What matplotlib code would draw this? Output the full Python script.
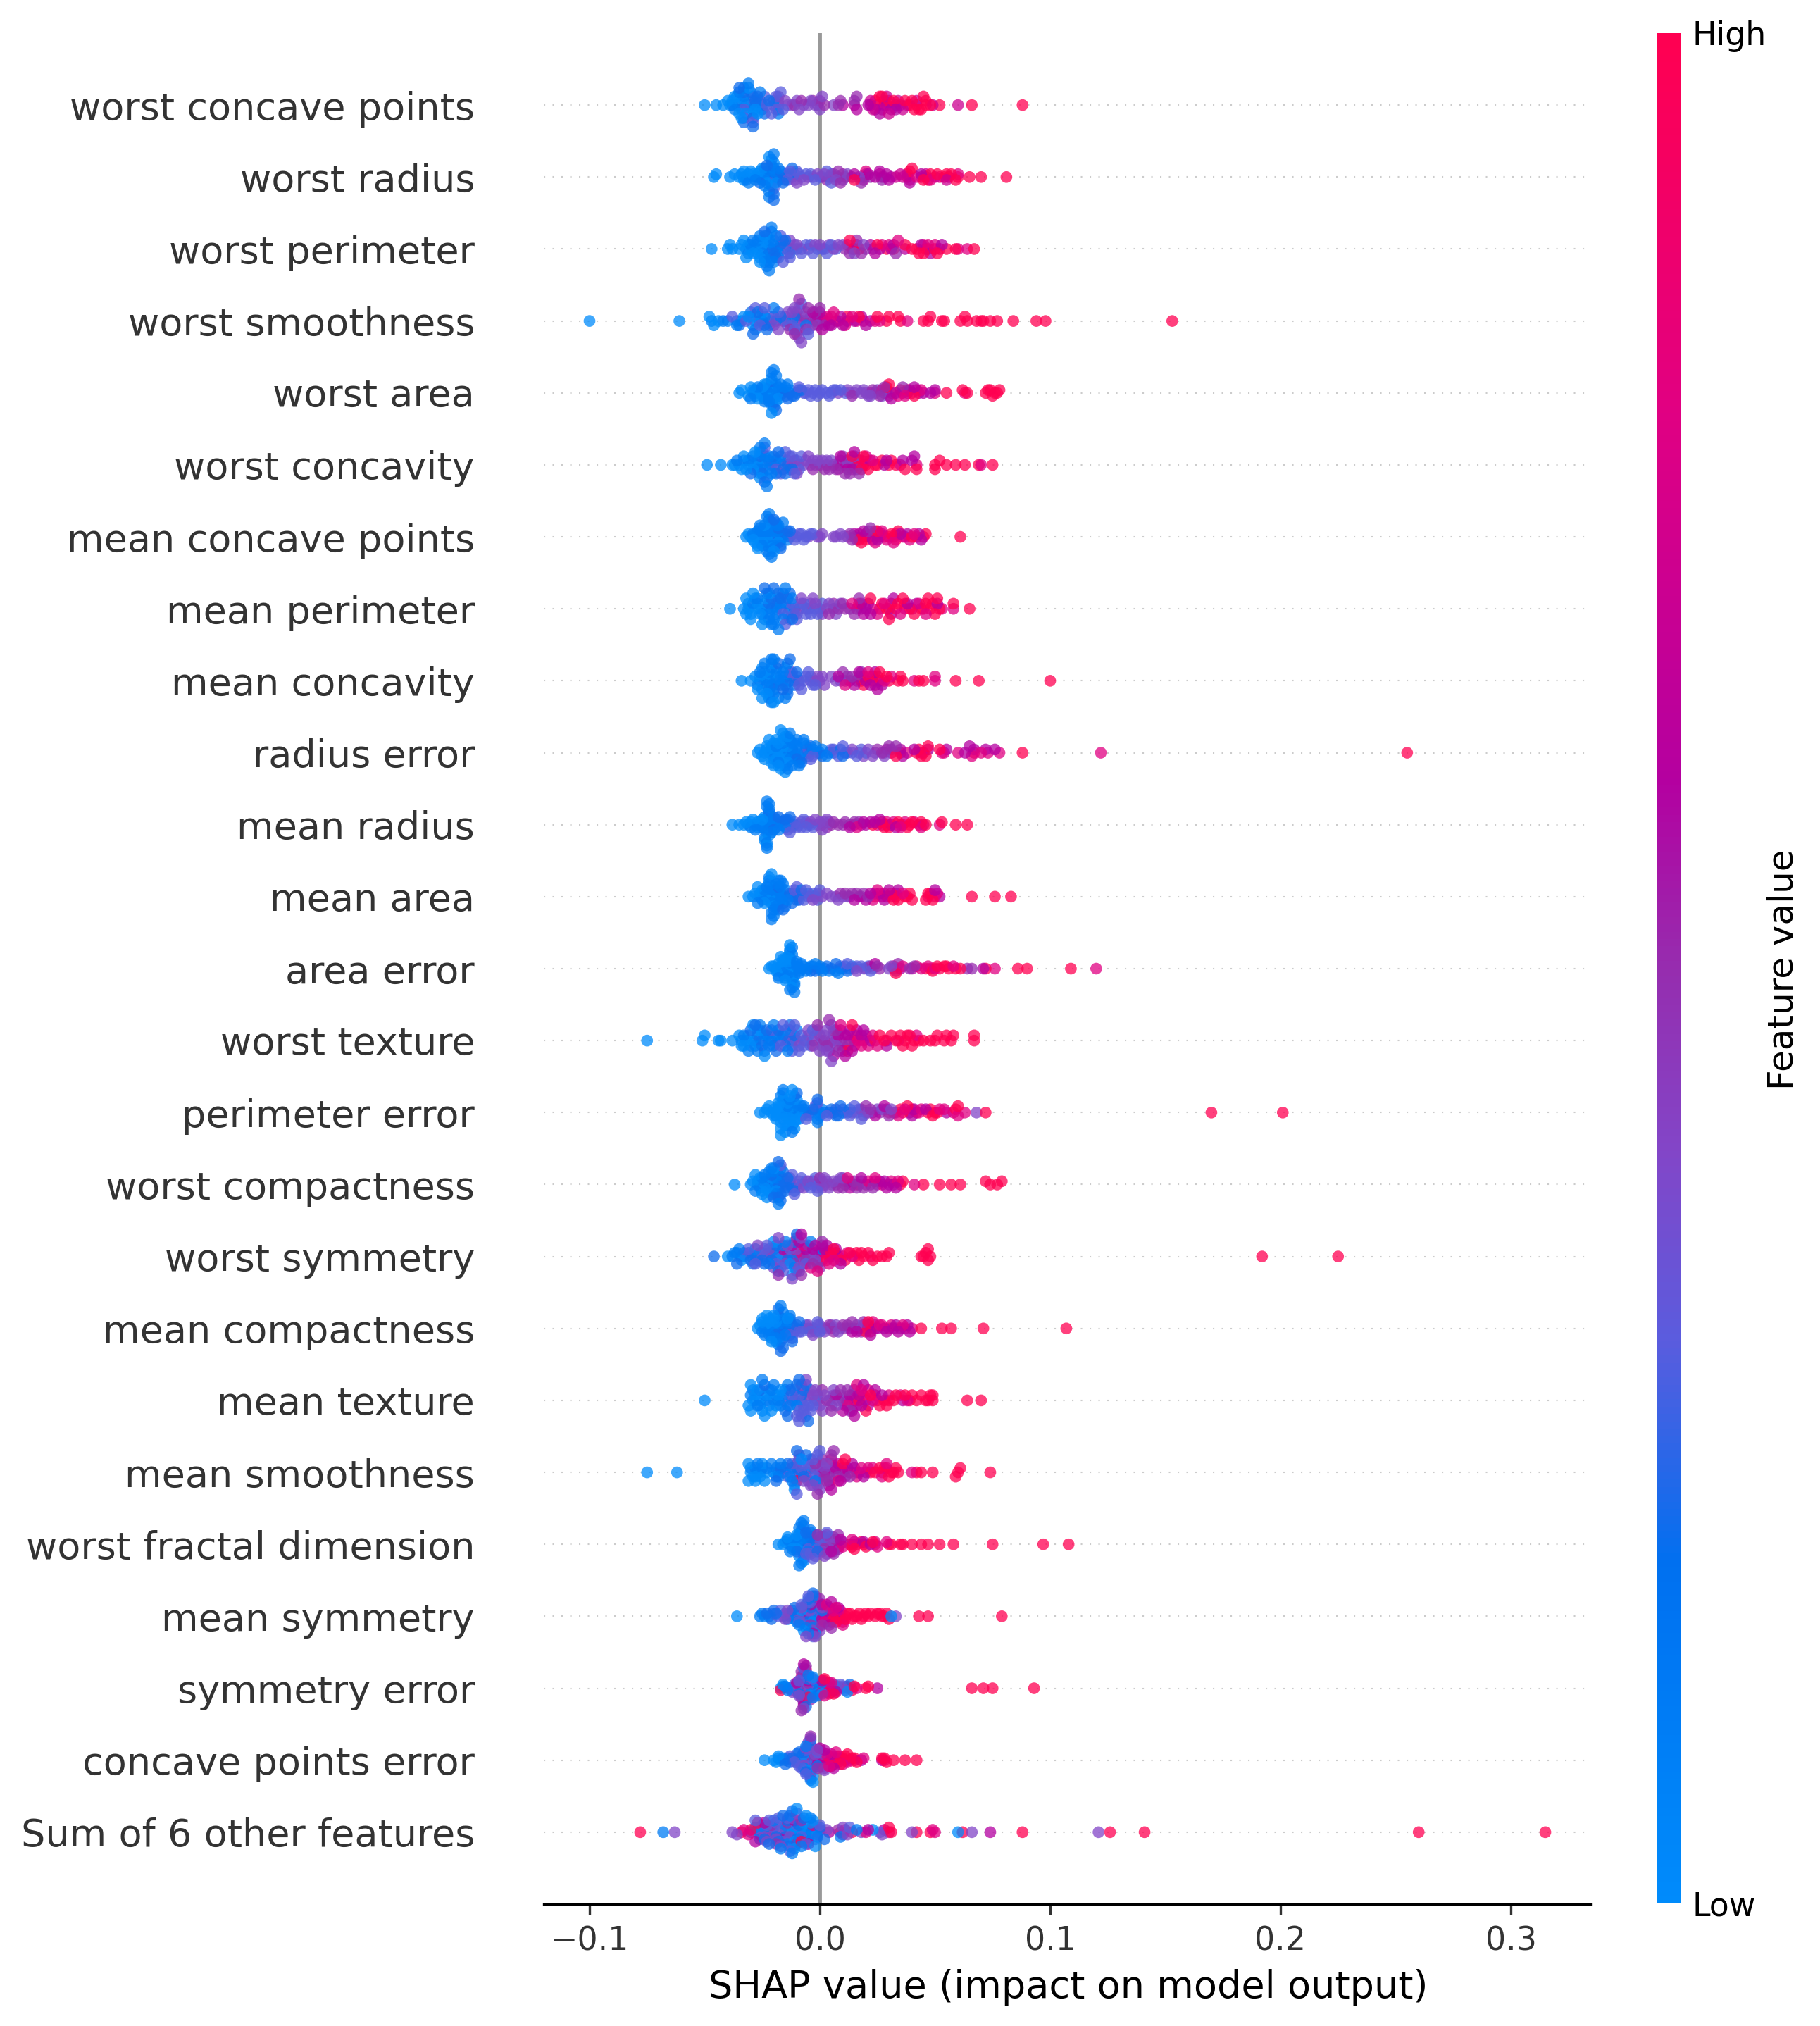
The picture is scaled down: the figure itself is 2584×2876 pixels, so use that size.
import numpy as np
import matplotlib
matplotlib.use("Agg")
import matplotlib.pyplot as plt
from matplotlib.cm import ScalarMappable
from matplotlib.colors import LinearSegmentedColormap

# SHAP values in thousandths, grouped by feature value level (0 low .. 10 high)
worst_concave_points = {
    0: [-50,-45,-42,-40,-39,-38,-37,-36,-36,-35,-34,-33,-32,-31,-30,-29,-28,-27],
    1: [-38,-37,-35,-34,-33,-33,-31,-29,-28,-26,-25,-20,-18],
    2: [-35,-34,-33,-33,-32,-30,-29,-29,-29,-28,-27,-26,-25,-24,-22],
    3: [-33,-33,-29,-29,-24,-23,-21,-20,-19,-19,-18,-18,-17,-16],
    4: [-18,-18,-15,-14,-12,-10,-9,-7,-5,-4,-2,-1,0,1,6],
    5: [-11,-8,-3,0,2,8,9,15,16],
    6: [10,15,16,21,22,24,26,28,29,31,33,35],
    7: [22,23,25,27,29,30,33,34,36,38,42,49,60],
    10: [24,26,27,28,30,32,37,39,40,41,42,43,44,45,46,46,48,52,66,88],
}
worst_radius = {
    0: [-46,-45,-39,-37,-35,-34,-33,-33,-32,-31,-30,-29,-28,-27,-26,-25,-24,-24,-23,-22,-21,-20,-20,-19],
    1: [-33,-32,-31,-28,-27,-25,-24,-24,-23,-23,-22,-22,-21,-21,-21,-20,-20,-19,-19,-18,-17,-15],
    2: [-26,-23,-22,-21,-20,-20,-19,-18,-17,-16,-15,-14,-13,-12],
    3: [-21,-20,-14,-13,-12,-11,-10,-9,-8,-6,-4,-2,0,1,3,5,6],
    4: [-11,-10,-7,-5,-3,-1,2,4,5,6,7,8,10,12,17,19],
    5: [3,8,9,10,11,14,18,20,22,27],
    6: [15,19,21,24,26,27,28,29,30,31,38,39,44],
    7: [26,33,35,36,44,46,50,55],
    8: [20,39,42,48,52,56,60],
    10: [15,38,39,40,45,46,47,48,51,54,55,57,59,60,65,70,81],
}
worst_perimeter = {
    0: [-47,-40,-39,-38,-35,-34,-33,-32,-31,-30,-29,-28,-27,-26,-26,-25,-24,-24],
    1: [-32,-31,-30,-29,-28,-27,-26,-25,-25,-24,-24,-23,-23,-23,-22,-22,-22,-21,-21,-21,-21,-20,-20,-20,-19,-19,-18,-18],
    2: [-24,-22,-20,-19,-18,-17,-16,-15,-14,-13],
    3: [-17,-16,-15,-14,-13,-12,-11,-10,-8,-6,-4,-3,-1,1,3,5,7],
    4: [-13,-10,-8,-5,-2,0,2,4,6,8,10,15,19],
    5: [11,13,16,18,20,23,33],
    6: [14,16,22,24,26,31,32,37,44,48,53],
    8: [12,27,30,34,45,47,50,52,60,64],
    10: [13,15,17,25,29,32,37,40,42,43,45,46,47,50,51,55,59,67],
}
worst_smoothness = {
    0: [-100,-61,-48,-46,-44,-36,-33,-31,-29,-26,-25],
    1: [-47,-42,-40,-36,-28,-28,-24,-20,-12,-6],
    2: [-35,-34,-30,-29,-27,-26,-25,-24,-23,-21,-19,-17,-15,-11],
    3: [-38,-32,-30,-28,-26,-24,-22,-20,-18,-15,-14,-12,-11,-10,-9,-8,-5],
    4: [-22,-20,-18,-16,-14,-12,-11,-10,-9,-9,-8,-7,-6,-5,-3,-1],
    5: [-13,-11,-10,-10,-9,-8,-7,-6,-5,-4,-3,-2,0,1,2],
    6: [-3,-2,-1,0,1,2,3,4,5,7,9,10,12,15,18,20,22],
    8: [3,5,6,8,11,14,16,19,24,26,38],
    10: [12,17,25,29,30,34,35,45,47,48,53,54,61,63,64,68,70,71,74,77,84,94,98,153],
}
worst_area = {
    0: [-35,-34,-31,-30,-29,-28,-28,-27,-26,-25,-24,-23,-22,-21,-21,-20,-19,-18],
    1: [-30,-29,-28,-27,-26,-25,-24,-24,-23,-23,-22,-22,-22,-21,-21,-21,-20,-20,-20,-20,-19,-19,-19,-18,-18,-17,-17,-16,-15,-14,-13],
    2: [-21,-19,-17,-16,-15,-14,-13,-12,-11,-10,-9,-8],
    3: [-9,-7,-6,-5,-4,-3,-2,-1,0,1,3,4,5,6,7,9,11],
    4: [8,12,13,15,16,18,19,21,22,24,25,27],
    5: [14,20,23,26,28,29,30,36],
    6: [22,28,31,33,36,38,39,41,43,45,48,50],
    8: [27,34,37,40,42,44,50,63],
    10: [29,30,31,35,38,41,55,62,64,72,73,74,75,76,77,78],
}
worst_concavity = {
    0: [-49,-43,-38,-37,-35,-34,-33,-32,-31,-30,-29,-28,-27,-26,-26],
    1: [-36,-33,-31,-29,-28,-27,-26,-26,-25,-25,-25,-24,-24,-24,-23,-23,-22,-22,-21,-20,-19,-17],
    2: [-30,-27,-26,-25,-24,-22,-20,-19,-18,-17,-16,-15,-14,-13,-12],
    3: [-24,-21,-19,-17,-15,-14,-13,-12,-11,-10,-9,-8],
    4: [-16,-12,-11,-10,-9,-7,-6,-5,-4,-3,-2,-1,1,3,5,8,12,15],
    5: [-3,0,2,4,7,9,10,11,13,14,16,17],
    6: [3,6,8,9,11,12,14,15,19,22,28,29,36,40,41],
    8: [13,18,20,23,35,42,70],
    10: [14,16,17,18,19,20,21,24,25,27,30,31,33,37,42,50,50,52,55,59,63,69,75],
}
mean_concave_points = {
    0: [-32,-31,-30,-29,-28,-28,-27,-27,-26,-25,-24,-23,-22,-21,-20,-19,-18],
    1: [-29,-28,-27,-26,-26,-25,-25,-25,-24,-24,-24,-23,-23,-23,-23,-22,-22,-22,-22,-22,-21,-21,-21,-20,-20,-20,-20,-19,-19,-19,-19,-18,-18,-18,-17,-17,-16,-15,-14],
    2: [-22,-20,-19,-18,-17,-16,-15,-14,-13],
    3: [-13,-12,-11,-10,-9,-8,-7,-6,-4,-3],
    4: [-5,-1,0,1,6,7,9,10],
    5: [12,13,14,15,16,21,22],
    6: [15,17,19,21,22,23,25,26,27,35,37,38,43,44],
    8: [20,23,24,27,28,29,32,33,36,39,41,45],
    10: [17,18,19,20,24,25,26,30,31,32,33,34,40,42,46,61],
}
mean_perimeter = {
    0: [-39,-33,-32,-32,-31,-30,-30,-29,-28,-27,-26,-25,-24,-23,-22],
    1: [-31,-29,-28,-27,-26,-25,-24,-23,-23,-22,-22,-21,-21,-20,-20,-19,-19,-18,-18,-17,-17,-16,-15,-14,-13,-12],
    2: [-24,-22,-21,-20,-19,-18,-17,-16,-15,-14,-13,-12,-11],
    3: [-16,-15,-13,-12,-11,-10,-9,-8,-7,-6,-5,-4,-2,-1,1],
    4: [-10,-8,-6,-4,-3,-2,0,1,3,4,6,7,9],
    5: [4,6,8,10,11,13,15,17,18],
    6: [16,18,19,20,21,22,30,31,32,38,40,42,51],
    8: [14,23,25,28,35,37,43,46,53,58],
    10: [17,22,26,27,29,30,31,33,34,36,37,39,41,44,45,46,47,48,49,50,51,52,58,65],
}
mean_concavity = {
    0: [-34,-30,-28,-27,-26,-25,-25,-24,-24,-23,-22,-22,-21,-20,-19],
    1: [-27,-26,-26,-25,-24,-23,-23,-22,-22,-22,-22,-21,-21,-21,-21,-20,-20,-20,-19,-19,-18,-18,-17,-17,-16,-16,-15,-15,-15,-14,-14,-13],
    2: [-20,-18,-16,-15,-14,-13,-12,-11,-10,-9],
    3: [-13,-12,-11,-10,-9,-8,-7,-6,-5,-4,-3,-2],
    4: [-4,-2,-1,0,1,2,5,7,9],
    5: [10,11,12,14,16,17,18],
    6: [8,13,15,17,19,20,22,23,24,25,26,27],
    8: [11,21,24,28,31,41,50,50],
    10: [18,19,21,23,25,26,29,30,34,35,36,43,45,59,69,100],
}
radius_error = {
    0: [-27,-26,-25,-24,-24,-23,-23,-22,-22,-21,-21,-20,-20,-20,-19,-19,-19,-18,-18,-18,-18,-17,-17,-17,-16,-16,-16,-16,-15,-15,-15,-15,-14,-14,-14],
    1: [-21,-20,-19,-18,-17,-16,-15,-14,-14,-13,-13,-13,-12,-12,-12,-11,-11,-11,-10,-10,-10,-9,-9,-8,-8,-7,-7,-6,-5,-3,-2,-1,0,1,3],
    2: [-12,-10,-8,-7,-5,-4,1,4,6,9,10],
    3: [-6,-5,-4,-3,5,6,8,10,11,12,14,16,18,20],
    4: [14,17,19,21,23,24,28],
    5: [25,27,28,30,31,33],
    6: [29,35,36,41,47,55,63,65,67,72,76],
    8: [31,38,44,53,54,60,66,70,73,78,122],
    10: [33,35,42,43,44,45,46,47,52,67,88,255],
}
mean_radius = {
    0: [-38,-35,-33,-32,-31,-30,-29,-28,-27,-26,-25,-24,-24,-23,-23,-22],
    1: [-30,-28,-27,-26,-25,-24,-24,-23,-23,-23,-23,-23,-23,-22,-22,-22,-22,-21,-21,-21,-21,-20,-20,-19,-19,-18,-17,-16,-15],
    2: [-24,-22,-20,-18,-17,-16,-15,-14,-14,-13,-12,-11],
    3: [-14,-13,-12,-11,-10,-9,-8,-7,-6,-5,-4,-3],
    4: [-8,-6,-4,-2,-1,0,1,2,3,4],
    5: [1,3,5,6,8,10,11,13,15,17],
    6: [13,15,18,19,20,22,24,26,27,31,33,35,45],
    8: [16,25,29,32,35,37,41,44,52],
    10: [23,27,28,29,30,34,36,38,39,40,43,44,46,53,59,64],
}
mean_area = {
    0: [-31,-29,-28,-27,-26,-25,-24,-24,-23,-22,-21,-21,-20],
    1: [-27,-26,-25,-24,-23,-23,-22,-22,-22,-21,-21,-21,-21,-20,-20,-20,-20,-19,-19,-19,-19,-18,-18,-18,-18,-18,-17,-17,-17,-17,-16,-16,-16,-15,-15,-14,-5],
    2: [-18,-16,-14,-13,-12,-11,-10,-9,-8],
    3: [-12,-11,-10,-9,-8,-7,-6,-5,-4,-3,-2,-1,0],
    4: [-3,-1,1,3,5,7,8,10,12],
    5: [9,11,13,14,16,18,19,21],
    6: [15,17,20,22,24,26,28,30,33,34,50,52],
    8: [23,25,27,29,31,36,47,50,51],
    10: [24,28,31,32,33,34,37,38,39,40,46,47,48,49,66,76,83],
}
area_error = {
    0: [-22,-21,-20,-19,-19,-18,-18,-17,-17,-16,-16,-16,-15,-15,-15,-14,-14,-14,-14,-13,-13,-13,-12,-12,-12,-11,-11,-11],
    1: [-18,-17,-16,-15,-14,-14,-14,-13,-13,-13,-13,-13,-13,-12,-12,-12,-12,-11,-11,-10,-10,-10,-9,-9,-9,-8,-8,-7,-6,-5,-4,-3,-2,-1,0,1,2,4,7,8,10],
    2: [-4,-2,0,3,5,7,9,11,12,13,14],
    3: [9,12,15,16,18,19,21,22],
    4: [16,20,23,30,31,33],
    5: [22,25,26,34,39,41,64,66],
    6: [24,32,35,40,71],
    8: [32,36,42,44,47,50,58,76,120],
    10: [33,46,48,49,51,52,54,55,56,59,61,72,86,90,109],
}
worst_texture = {
    0: [-75,-51,-50,-44,-43,-38,-35,-34,-33,-32,-31,-30,-29,-28,-27,-26,-24,-22],
    1: [-34,-33,-31,-29,-28,-27,-26,-25,-24,-23,-22,-20,-19,-18,-15,-14,-12,-10],
    2: [-30,-28,-27,-25,-24,-23,-21,-20,-19,-18,-17,-16,-15,-13,-12,-11],
    3: [-21,-17,-16,-14,-13,-12,-11,-10,-9,-8,-7,-6,-5,-4,-3],
    4: [-13,-9,-7,-5,-3,-2,-1,0,1,1,2,3,3,4,4,5,5,6,7],
    5: [-3,-1,0,2,3,4,5,6,7,8,9,10,12],
    6: [6,7,8,9,10,11,11,12,13,14,15,16,18,19,20,22,29],
    8: [9,13,15,17,18,19,21,23,25,29,34,42],
    10: [12,14,16,24,26,28,31,33,35,36,37,38,39,40,41,43,45,48,50,51,54,55,57,58,67,67],
}
perimeter_error = {
    0: [-26,-24,-23,-22,-21,-20,-20,-19,-19,-19,-18,-18,-18,-17,-17,-17,-17,-16,-16,-16,-16,-15,-15,-15,-15,-14,-14,-14,-14,-13,-13,-13,-13,-12,-12,-12,-11,-11,-11,-10,-10,-9,-9,-8],
    1: [-17,-16,-15,-14,-13,-12,-12,-11,-11,-10,-9,-8,-7,-6,-2,-1,-1,0,0,1],
    2: [-10,-7,-5,-3,-1,2,4,5,6,7,8,9,10,12,13],
    3: [-6,-4,-2,-1,3,7,10,13,15,16,17,18,20],
    4: [14,19,21,23,25,27,31,68],
    5: [18,20,22,26,29,30,32,33],
    6: [24,28,39,40,41,46,55],
    8: [30,34,37,42,43,44,52,54,58,60,63],
    10: [35,36,38,40,47,48,49,50,51,59,60,72,170,201],
}
worst_compactness = {
    0: [-37,-30,-29,-28,-27,-26,-25,-25,-24,-24,-23,-22,-21,-21,-20,-20,-19],
    1: [-28,-27,-26,-25,-24,-23,-22,-22,-21,-21,-20,-20,-19,-19,-19,-18,-18,-18,-17,-13],
    2: [-24,-21,-20,-19,-18,-18,-18,-18,-17,-17,-17,-16,-16,-15,-15,-14,-14,-13,-12,-11],
    3: [-17,-15,-13,-12,-11,-10,-9,-8,-7,-6,-5,-4,-3,-2,-1,0],
    4: [-9,-7,-5,-3,-1,1,2,3,4,6,7,8,9,10,14,18],
    5: [0,2,5,8,10,11,13,15,16,17,19,23],
    6: [1,11,13,18,20,22,24,25,26,28,29,30,32,33],
    8: [12,16,21,24,27,31,34,41],
    10: [35,36,45,52,57,61,72,74,77,79],
}
worst_symmetry = {
    0: [-40,-36,-34,-20,-19,-18,-13,-12,-3],
    1: [-38,-37,-35,-33,-30,-28,-22,-21,-20,-16,-15,-14,-12,-11,-4,-1,1],
    2: [-46,-36,-34,-31,-30,-29,-28,-27,-25,-24,-22,-21,-19,-18,-17,-14,-11,-10,-9],
    3: [-33,-31,-28,-26,-25,-24,-23,-20,-19,-17,-16,-15,-13,-10,-9,-8,-7,-6],
    4: [-27,-24,-22,-20,-18,-16,-15,-14,-12,-11,-10,-9,-8,-5,-4,-2],
    5: [-18,-14,-11,-10,-8,-7,-6,-5,-3,-2,-1,0,1],
    6: [-16,-12,-9,-8,-7,-6,-3,-2,0,1,2,3,4,5,7,9],
    8: [-10,-7,-4,-1,1,3,4,6,8,10,12,14,22],
    10: [3,5,6,7,9,11,13,15,16,17,18,19,21,23,25,27,29,30,44,45,46,47,47,48,192,225],
}
mean_compactness = {
    0: [-27,-26,-25,-25,-24,-24,-23,-23,-22,-22,-21,-21,-20,-20,-19,-19,-18,-14,-13],
    1: [-25,-24,-23,-22,-21,-20,-20,-19,-19,-18,-18,-17,-17,-16,-16,-15,-15,-14,-13,-12],
    2: [-19,-18,-18,-17,-17,-17,-16,-16,-16,-15,-14,-13,-12,-11,-10,-9,-5],
    3: [-13,-12,-11,-10,-9,-8,-7,-6,-4,-3,-2,-1,0,1],
    4: [-5,-3,-1,0,2,3,5,7,8,9,13,16,24],
    5: [4,6,10,11,12,14,15,18,19,20],
    6: [5,14,16,19,21,22,24,25,28,29,32,33,34,35,38,39],
    8: [17,23,26,27,30,31,36,37,40],
    10: [20,21,22,44,53,57,71,107],
}
mean_texture = {
    0: [-50,-31,-30,-30,-29,-28,-28,-27,-26,-26,-25,-24,-24,-23,-22,-21,-20,-19,-18,-17],
    1: [-30,-29,-27,-25,-23,-22,-21,-20,-19,-18,-17,-16,-15,-14,-13,-11,-10],
    2: [-26,-24,-16,-15,-14,-13,-12,-11,-10,-9,-8,-7,-6,-5],
    3: [-14,-12,-10,-9,-9,-9,-8,-8,-7,-7,-6,-6,-5,-4,-3,-2,-1],
    4: [-8,-6,-5,-4,-3,-2,-1,0,1,2,4,5,6,7,9],
    5: [1,3,5,6,8,9,10,11,12,13,14,15],
    6: [7,10,12,13,14,15,16,17,18,19,20,21,24,27,36],
    8: [12,16,18,19,21,23,25,30,35,38],
    10: [15,17,20,22,24,26,28,29,30,32,33,37,39,40,42,44,46,47,48,49,49,64,70],
}
mean_smoothness = {
    0: [-75,-62,-31,-31,-30,-29,-28,-28,-27,-26,-25,-24,-23,-19,-11,-8],
    1: [-30,-28,-27,-26,-25,-23,-21,-20,-19,-18,-17,-16,-15,-13,-12,-10,-9,-2],
    2: [-19,-18,-17,-14,-13,-12,-11,-10,-9,-8,-7,-6,-4],
    3: [-14,-12,-10,-9,-8,-7,-6,-5,-4,-3,-2,-2,-1,0,1,-1],
    4: [-9,-7,-6,-5,-4,-3,-2,-1,0,0,1,2,3,4,5],
    5: [-2,-1,0,1,2,3,4,4,5,6,7,8,13,16],
    6: [2,4,5,6,7,8,9,10,11,12,14,15,17,19,20],
    8: [-10,5,8,10,13,16,18,21,23,27,29,40],
    10: [-10,10,11,22,24,26,27,28,29,30,31,32,33,34,42,44,49,59,60,61,74],
}
worst_fractal_dimension = {
    0: [-18,-16,-15,-14,-13,-12,-12,-11,-11,-10,-10,-9,-9,-8,-8,-7],
    1: [-14,-13,-12,-11,-10,-10,-9,-9,-9,-8,-8,-8,-8,-7,-7,-7,-7,-6,-6,-6,-5,-5,-4,-3,-2],
    2: [-10,-9,-8,-7,-6,-5,-4,-4,-3,-3,-2,-1,0],
    3: [-7,-6,-5,-5,-4,-3,-2,-1,0,0,1,2,3,3],
    4: [-4,-2,-1,0,1,2,3,4,4,5,5,6],
    5: [-1,1,2,3,4,5,6,6,7,7,8,9,10],
    6: [3,5,7,8,9,14,15,19,22],
    8: [8,10,14,16,24,25,29],
    10: [13,14,15,18,19,20,23,24,30,31,35,36,40,44,47,52,58,75,97,108],
}
mean_symmetry = {
    0: [-36,-12,-8,-7,-4,-3,-2,31],
    1: [-26,-25,-24,-13,-11,-10,-9,-8,-7,-6,-5,-4,-3,-3,-2,-1,1],
    2: [-23,-22,-21,-20,-19,-14,-12,-11,-10,-7,-6,-5,-4,-4,-4,-3],
    3: [-20,-18,-17,-16,-15,-9,-8,-7,-6,-5,-5,-4,-4,-3,-2,-1],
    4: [-15,-14,-13,-9,-8,-6,-5,-3,-2,-1,0,1,33],
    5: [-5,-4,-2,-1,0,0,1,2,3,4,5],
    6: [-7,-4,-3,-2,0,1,1,2,3,4,5,6,7,8],
    8: [-8,-1,2,3,4,5,6,7,8,9,10,11],
    10: [4,6,7,8,9,10,11,12,13,14,15,16,17,18,19,20,21,22,24,25,26,27,28,29,30,43,47,79],
}
symmetry_error = {
    0: [-17,-16,-4,-3,-2,-1,1,3,6,12],
    1: [-16,-15,-14,-7,-6,-5,-5,-4,-4,-3,-3,-2,-2,-1,0,1],
    2: [-14,-12,-10,-9,-8,-7,-6,-4,-3,-1,2,12,13],
    3: [-13,-11,-10,-9,-8,-7,-7,-6,-5,-3,0,7,9,10],
    4: [-12,-10,-9,-8,-7,-7,-6,-5,-4,8,10,11],
    5: [-11,-9,-8,-8,-7,-7,-6,-6,-5,-4,5,6],
    6: [-10,-9,-8,-7,-7,-6,-5,1,4,5,7,25],
    8: [-8,-6,-4,0,1,2,3,4,5,6,12,16],
    10: [-17,-7,-5,-1,1,2,2,3,4,6,8,14,15,20,21,66,71,75,93],
}
concave_points_error = {
    0: [-24,-20,-19,-18,-17,-7,-6,-5,-4,-3,-3,-8],
    1: [-18,-16,-15,-8,-7,-6,-5,-4,-4,-3,-2,-1],
    2: [-15,-14,-13,-12,-11,-10,-9,-9,-8,-7,-6,-5,-5,-4,-3,-2],
    3: [-13,-11,-10,-9,-8,-7,-7,-6,-6,-5,-4,-4,-3,-2,-1,0],
    4: [-7,-7,-6,-5,-5,-4,-3,-3,-2,-1,0,1,2],
    5: [-7,-6,-5,-4,-3,-2,-1,0,1,2,3,4],
    6: [-1,0,1,1,2,3,4,5,6,7,8,18,27],
    8: [2,3,4,5,6,7,8,9,10,11,12,15,19,28],
    10: [3,5,6,7,8,9,10,11,12,13,14,15,16,27,28,29,32,37,42],
}
sum_of_others = {
    0: [-15,-12,-11,-11,-10,-9,-8,-7,-6,-5,-4,-3,-2,-1,23,60],
    1: [-68,-28,-24,-20,-17,-15,-14,-13,-12,-11,-10,-9,-8,-7,-6,-5,-4,-3,-1,9,16],
    2: [-30,-26,-24,-22,-21,-19,-18,-16,-15,-14,-13,-12,-11,-10,-9,-7,-5,0,2],
    3: [-28,-26,-25,-23,-22,-21,-20,-19,-18,-17,-16,-14,-13,-12,-10,-8,-6,-5,-2,0,13,26],
    4: [-63,-38,-36,-27,-25,-24,-23,-22,-20,-19,-17,-15,-13,-12,-10,-4,3,10,12,18,27,40,66,121],
    5: [-22,-21,-19,-17,-14,-10,-8,0,8],
    6: [-28,-24,-22,-17,-11,-5,-1,4,10,21,28,74],
    8: [-33,-31,-26,-3,11,20,30,49,50],
    10: [-78,-34,-30,-27,-8,9,14,30,31,42,48,62,88,126,141,260,315],
}

feature_names = [
    "worst concave points", "worst radius", "worst perimeter", "worst smoothness",
    "worst area", "worst concavity", "mean concave points", "mean perimeter",
    "mean concavity", "radius error", "mean radius", "mean area", "area error",
    "worst texture", "perimeter error", "worst compactness", "worst symmetry",
    "mean compactness", "mean texture", "mean smoothness", "worst fractal dimension",
    "mean symmetry", "symmetry error", "concave points error", "Sum of 6 other features",
]
rows = [
    worst_concave_points, worst_radius, worst_perimeter, worst_smoothness,
    worst_area, worst_concavity, mean_concave_points, mean_perimeter,
    mean_concavity, radius_error, mean_radius, mean_area, area_error,
    worst_texture, perimeter_error, worst_compactness, worst_symmetry,
    mean_compactness, mean_texture, mean_smoothness, worst_fractal_dimension,
    mean_symmetry, symmetry_error, concave_points_error, sum_of_others,
]
x_ticks = [-0.1, 0.0, 0.1, 0.2, 0.3]

row_height = 0.4
W, H = 2584, 2876

cmap = LinearSegmentedColormap.from_list("red_blue", [
    (0.0, (0/255, 139/255, 251/255)),
    (0.18, (0/255, 112/255, 240/255)),
    (0.3, (90/255, 92/255, 222/255)),
    (0.4, (130/255, 70/255, 200/255)),
    (0.5, (150/255, 45/255, 175/255)),
    (0.6, (180/255, 0/255, 160/255)),
    (0.8, (225/255, 0/255, 130/255)),
    (1.0, (255/255, 0/255, 81/255)),
])


def swarm_offsets(shaps):
    # beeswarm binning, bins no narrower than 2.5 thousandths since the values are read off as whole thousandths
    width = max((shaps.max() - shaps.min()) / 100, 0.0025)
    quant = np.round((shaps - shaps.min()) / width)
    inds = np.argsort(quant, kind="stable")
    layer = 0
    last_bin = -1
    ys = np.zeros(len(shaps))
    for ind in inds:
        if quant[ind] != last_bin:
            layer = 0
        ys[ind] = np.ceil(layer / 2) * ((layer % 2) * 2 - 1)
        layer += 1
        last_bin = quant[ind]
    return ys * 0.9 * (row_height / np.max(ys + 1))


fig = plt.figure(figsize=(W / 300, H / 300), dpi=300)
ax = fig.add_axes([772 / W, 1 - 2703 / H, (2259 - 772) / W, (2703 - 47) / H])
n = len(rows)

ax.axvline(0, color="#999999", lw=1.4, zorder=-1)
for i, row in enumerate(rows):
    pos = n - 1 - i
    ax.axhline(pos, color="#cccccc", lw=0.5, dashes=(1, 5), zorder=-1)
    shaps = np.array([v for level in row for v in row[level]]) / 1000
    vals = np.array([level / 10 for level in row for v in row[level]])
    # levels are typed in groups, mix them so colours overlap and stack as in the sample order
    order = np.argsort((np.arange(len(shaps)) * 37) % len(shaps), kind="stable")
    shaps, vals = shaps[order], vals[order]
    ax.scatter(shaps, pos + swarm_offsets(shaps), c=vals, cmap=cmap, vmin=0, vmax=1,
               s=16, alpha=0.75, linewidth=0, zorder=3)

ax.set_xlim((772 - 1164) / 3270, (2259 - 1164) / 3270)
ax.set_ylim(-1, n)
ax.set_yticks(range(n))
ax.set_yticklabels(feature_names[::-1], fontsize=13)
ax.yaxis.set_ticks_position("none")
ax.tick_params("y", length=20, width=0.5, labelcolor="#333333")
ax.set_xticks(x_ticks)
ax.tick_params("x", labelsize=11, color="#333333", labelcolor="#333333", pad=3.75)
ax.set_xlabel("SHAP value (impact on model output)", fontsize=13, x=0.501)
ax.spines["right"].set_visible(False)
ax.spines["top"].set_visible(False)
ax.spines["left"].set_visible(False)

cax = fig.add_axes([2353 / W, 1 - 2702 / H, 33 / W, (2702 - 47) / H])
cb = fig.colorbar(ScalarMappable(cmap=cmap), cax=cax, ticks=[0, 1])
cb.set_ticklabels(["Low", "High"])
cb.ax.tick_params(labelsize=11, length=0, pad=4)
cb.outline.set_visible(False)
cb.set_label("Feature value", size=12, labelpad=0, y=0.4993)

fig.savefig("out.png", dpi=300)
